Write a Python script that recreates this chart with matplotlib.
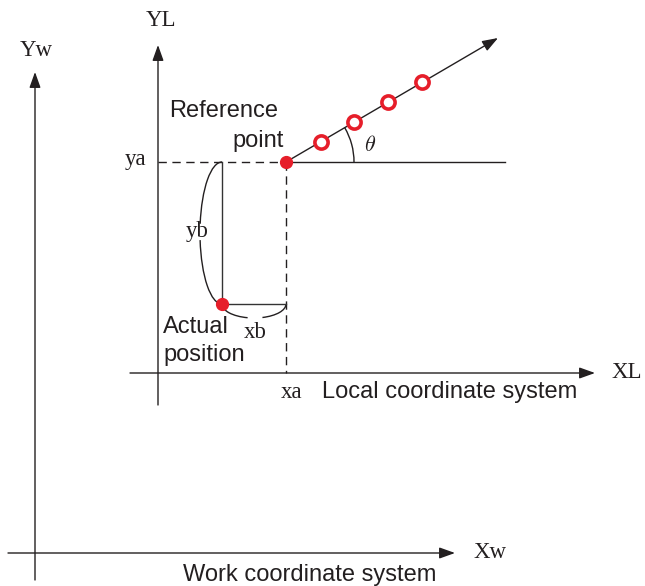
import numpy as np
import matplotlib.pyplot as plt
from matplotlib.patches import Arc, FancyArrowPatch

# diagram positions in picture coordinates (x right, y down)
work_origin = (35, 553)
work_x_end = 455
work_y_end = 72
local_origin = (158, 373)
local_x_end = 595
local_y_end = 45
ref_point = (286, 162)
actual_point = (222, 304)
ray_end = (498, 38)
ref_line_end = 505
circle_x = [321, 354, 388, 422]
red = '#e61e2a'
ink = '#231f20'

plt.rcParams['mathtext.fontset'] = 'cm'
serif = 'Liberation Serif'
sans = 'Liberation Sans'

fig = plt.figure(figsize=(6.45, 5.86), dpi=100)
ax = fig.add_axes([0, 0, 1, 1])
ax.set_xlim(0, 645)
ax.set_ylim(586, 0)
ax.axis('off')

lw = 1.0


def arrow(p0, p1):
    ax.add_patch(FancyArrowPatch(p0, p1, arrowstyle='-|>,head_length=0.95,head_width=0.34',
                                 mutation_scale=10, lw=lw, color=ink, shrinkA=0, shrinkB=0))


# work coordinate system
arrow((work_origin[0], 580), (work_origin[0], work_y_end))
arrow((8, work_origin[1]), (work_x_end, work_origin[1]))
ax.text(36, 50, 'Yw', fontsize=16.5, family=serif, ha='center', va='center', color=ink)
ax.text(473, work_origin[1], 'Xw', fontsize=16.5, family=serif, ha='left', va='center', color=ink)
ax.text(310, 575, 'Work coordinate system', fontsize=17, family=sans, ha='center', va='center', color=ink)

# local coordinate system
arrow((local_origin[0], 405), (local_origin[0], local_y_end))
arrow((130, local_origin[1]), (local_x_end, local_origin[1]))
ax.text(161, 20, 'YL', fontsize=16.5, family=serif, ha='center', va='center', color=ink)
ax.text(611, local_origin[1], 'XL', fontsize=16.5, family=serif, ha='left', va='center', color=ink)
ax.text(322, 392, 'Local coordinate system', fontsize=17, family=sans, ha='left', va='center', color=ink)
ax.text(292, 392, 'xa', fontsize=16.5, family=serif, ha='center', va='center', color=ink)
ax.text(136, 160, 'ya', fontsize=16.5, family=serif, ha='center', va='center', color=ink)

# dashed projections of the reference point
ax.plot([local_origin[0], ref_point[0]], [ref_point[1], ref_point[1]], color=ink, lw=lw,
        dashes=(6, 4))
ax.plot([ref_point[0], ref_point[0]], [ref_point[1], local_origin[1]], color=ink, lw=lw,
        dashes=(6, 4))

# horizontal reference line and ray
ax.plot([ref_point[0], ref_line_end], [ref_point[1], ref_point[1]], color=ink, lw=lw)
arrow(ref_point, ray_end)

# theta arc
ang = np.degrees(np.arctan2(ref_point[1] - ray_end[1], ray_end[0] - ref_point[0]))
ax.add_patch(Arc(ref_point, 136, 136, theta1=-ang, theta2=0, color=ink, lw=lw))
ax.text(370, 145, r'$\theta$', fontsize=16, ha='center', va='center', color=ink)

# offsets from actual position
ax.plot([actual_point[0], actual_point[0]], [ref_point[1], actual_point[1]], color='#333', lw=lw)
ax.plot([actual_point[0], ref_point[0]], [actual_point[1], actual_point[1]], color='#333', lw=lw)

# yb brace (left half ellipse with gap)
cy = (ref_point[1] + actual_point[1]) / 2
h = actual_point[1] - ref_point[1]
ax.add_patch(Arc((actual_point[0], cy), 44, h, theta1=90, theta2=162, color=ink, lw=lw))
ax.add_patch(Arc((actual_point[0], cy), 44, h, theta1=203, theta2=270, color=ink, lw=lw))
ax.text(197, 232, 'yb', fontsize=16.5, family=serif, ha='center', va='center', color=ink)

# xb brace (lower half ellipse with gap)
cx = (actual_point[0] + ref_point[0]) / 2
w = ref_point[0] - actual_point[0]
ax.add_patch(Arc((cx, actual_point[1]), w, 28, theta1=0, theta2=58, color=ink, lw=lw))
ax.add_patch(Arc((cx, actual_point[1]), w, 28, theta1=115, theta2=180, color=ink, lw=lw))
ax.text(255, 333, 'xb', fontsize=16.5, family=serif, ha='center', va='center', color=ink)

# points
slope = (ray_end[1] - ref_point[1]) / (ray_end[0] - ref_point[0])
circle_y = [ref_point[1] + slope * (x - ref_point[0]) for x in circle_x]
ax.plot(circle_x, circle_y, 'o', ms=9.5, mfc='white', mec=red, mew=2.6, zorder=5)
ax.plot(*ref_point, 'o', ms=8.5, color=red, zorder=5)
ax.plot(*actual_point, 'o', ms=8.5, color=red, zorder=5)

ax.text(169, 111, 'Reference', fontsize=17, family=sans, ha='left', va='center', color=ink)
ax.text(284, 141, 'point', fontsize=17, family=sans, ha='right', va='center', color=ink)
ax.text(163, 327, 'Actual', fontsize=17, family=sans, ha='left', va='center', color=ink)
ax.text(163, 355, 'position', fontsize=17, family=sans, ha='left', va='center', color=ink)

fig.savefig('out.png', dpi=100)
